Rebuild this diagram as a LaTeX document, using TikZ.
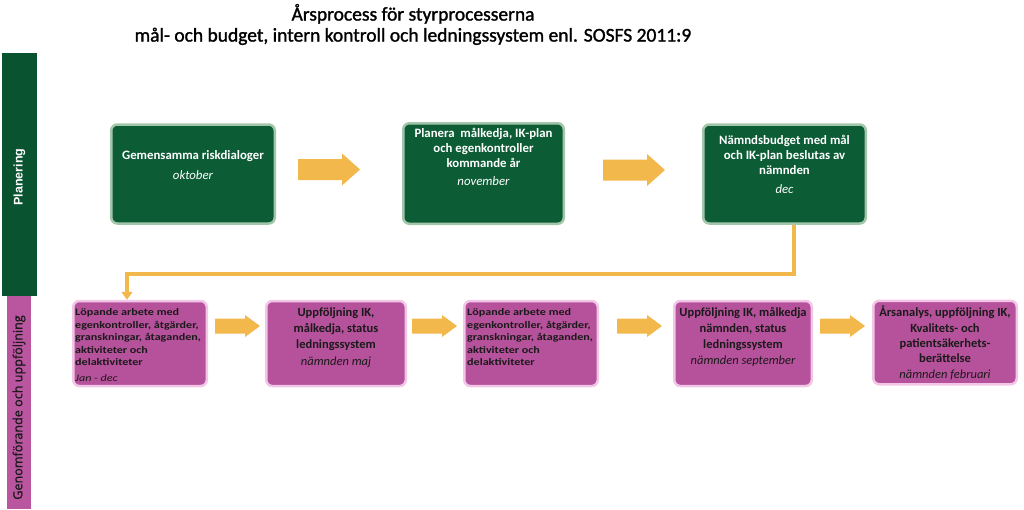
\documentclass[tikz,border=0pt]{standalone}
\usepackage{fontspec}
\setmainfont{Carlito}
\newfontfamily\widefont[FakeStretch=1.21]{Carlito}
\newfontfamily\titlefont[FakeBold=1.4]{Carlito}
\newfontfamily\lanefont[FakeBold=1]{Open Sans}
\newfontfamily\arialfont{Liberation Sans}
\usetikzlibrary{arrows.meta, positioning}
\definecolor{plangreen}{HTML}{0C5C35}
\definecolor{planrim}{HTML}{A3C6AB}
\definecolor{lanegreen}{HTML}{0A5330}
\definecolor{followpink}{HTML}{B6519B}
\definecolor{followrim}{HTML}{F2C6E6}
\definecolor{lanepink}{HTML}{BA55A0}
\definecolor{arrowyellow}{HTML}{F2B84B}
\definecolor{inktext}{HTML}{1A1A1A}
\tikzset{
  planbox/.style={draw=planrim, fill=plangreen, line width=2.5pt, rounded corners=6pt,
    minimum height=99pt},
  followbox/.style={draw=followrim, fill=followpink, line width=2.5pt, rounded corners=6pt,
    minimum height=85pt},
  plantxt/.style={text=white, inner sep=0pt, align=center,
    font=\bfseries\fontsize{12.8}{15}\selectfont},
  followtxt/.style={text=inktext, inner sep=0pt, align=center,
    font=\bfseries\fontsize{12.5}{16}\selectfont},
  smalltxt/.style={text=inktext, inner sep=0pt, align=left,
    font=\widefont\bfseries\fontsize{10}{12.5}\selectfont},
  lanebar/.style={minimum width=#1, inner sep=0pt},
  lanetxt/.style={rotate=90, inner sep=0pt},
  feedline/.style={draw=arrowyellow, line width=4.5pt, -{Triangle[width=11pt,length=8pt]}},
}
\newcommand{\bigarrow}[2]{%
  \fill[arrowyellow] (#1,#2) ++(0,-10.5) -- ++(44,0) -- ++(0,-5.5) -- ++(18,16)
    -- ++(-18,16) -- ++(0,-5.5) -- ++(-44,0) -- cycle;
}
\newcommand{\smallarrow}[2]{%
  \fill[arrowyellow] (#1,#2) ++(0,-7.5) -- ++(30,0) -- ++(0,-3.5) -- ++(15,11)
    -- ++(-15,11) -- ++(0,-3.5) -- ++(-30,0) -- cycle;
}
\begin{document}
\begin{tikzpicture}[x=1pt, y=-1pt]
  \useasboundingbox (0,0) rectangle (1024,509);

  % Title
  \node[font=\titlefont\fontsize{19.5}{21}\selectfont, align=center] (title) at (413,24.5)
    {Årsprocess för styrprocesserna\\
     mål- och budget, intern kontroll och ledningssystem enl. SOSFS 2011:9};

  % Lanes
  \node[lanebar=35, fill=lanegreen, minimum height=243] (planLane) at (19.5,174.5) {};
  \node[lanetxt, text=white, font=\arialfont\bfseries\fontsize{12.5}{14}\selectfont]
    (planLaneTxt) at (19.5,177) {Planering};
  \node[lanebar=24, fill=lanepink, minimum height=213] (followLane) at (19,402.5) {};
  \node[lanetxt, text=inktext, font=\lanefont\fontsize{12.6}{14}\selectfont]
    (followLaneTxt) at (19,407.5) {Genomförande och uppföljning};

  % Planning row
  \node[planbox, minimum width=163.5] (plan1) at (193,174) {};
  \node[planbox, minimum width=160.5, minimum height=100.5] (plan2) at (483.5,173.5) {};
  \node[planbox, minimum width=162.5] (plan3) at (784.5,174) {};
  \node[plantxt, below=27pt of plan1.north] (plan1txt)
    {Gemensamma riskdialoger\\[5pt] \mdseries\itshape oktober};
  \node[plantxt, below=6.5pt of plan2.north] (plan2txt)
    {Planera\ \ målkedja, IK-plan\\ och egenkontroller\\ kommande år\\[3pt]
     \mdseries\itshape november};
  \node[plantxt, below=12pt of plan3.north] (plan3txt)
    {Nämndsbudget med mål\\ och IK-plan beslutas av\\ nämnden\\[4pt] \mdseries\itshape dec};
  \bigarrow{298}{169.5}
  \bigarrow{603}{170}

  % Follow-up row
  \node[followbox, minimum width=133.5] (follow1) at (140,343.5) {};
  \node[followbox, minimum width=139.5] (follow2) at (336,343.5) {};
  \node[followbox, minimum width=133.5] (follow3) at (531,343.5) {};
  \node[followbox, minimum width=137.5] (follow4) at (743,343.5) {};
  \node[followbox, minimum width=143.5, minimum height=83.5] (follow5) at (945,342.5) {};
  \node[smalltxt, below right=9pt and 3pt of follow1.north west] (follow1txt)
    {Löpande arbete med\\ egenkontroller, åtgärder,\\ granskningar, åtaganden,\\
     aktiviteter och\\ delaktiviteter\\[3.5pt] \mdseries\itshape Jan - dec};
  \node[followtxt, below=8pt of follow2.north] (follow2txt)
    {Uppföljning IK,\\ målkedja, status\\ ledningssystem\\[1pt] \mdseries\itshape nämnden maj};
  \node[smalltxt, below right=9pt and 4pt of follow3.north west] (follow3txt)
    {Löpande arbete med\\ egenkontroller, åtgärder,\\ granskningar, åtaganden,\\
     aktiviteter och\\ delaktiviteter};
  \node[followtxt, below=7.5pt of follow4.north] (follow4txt)
    {Uppföljning IK, målkedja\\ nämnden, status\\ ledningssystem\\
     \mdseries\itshape nämnden september};
  \node[followtxt, font=\bfseries\fontsize{12.5}{15.3}\selectfont,
    below=6.5pt of follow5.north] (follow5txt)
    {Årsanalys, uppföljning IK,\\ Kvalitets- och\\ patientsäkerhets-\\ berättelse\\
     \mdseries\itshape nämnden februari};
  \smallarrow{215}{326}
  \smallarrow{412}{326}
  \smallarrow{617}{326}
  \smallarrow{820}{326}

  % Feedback from planning to follow-up
  \coordinate (dropR) at (794,274);
  \coordinate (dropL) at (127,274);
  \draw[feedline] (plan3.south -| dropR) -- (dropR) -- (dropL) -- (follow1.north -| dropL);
\end{tikzpicture}
\end{document}
